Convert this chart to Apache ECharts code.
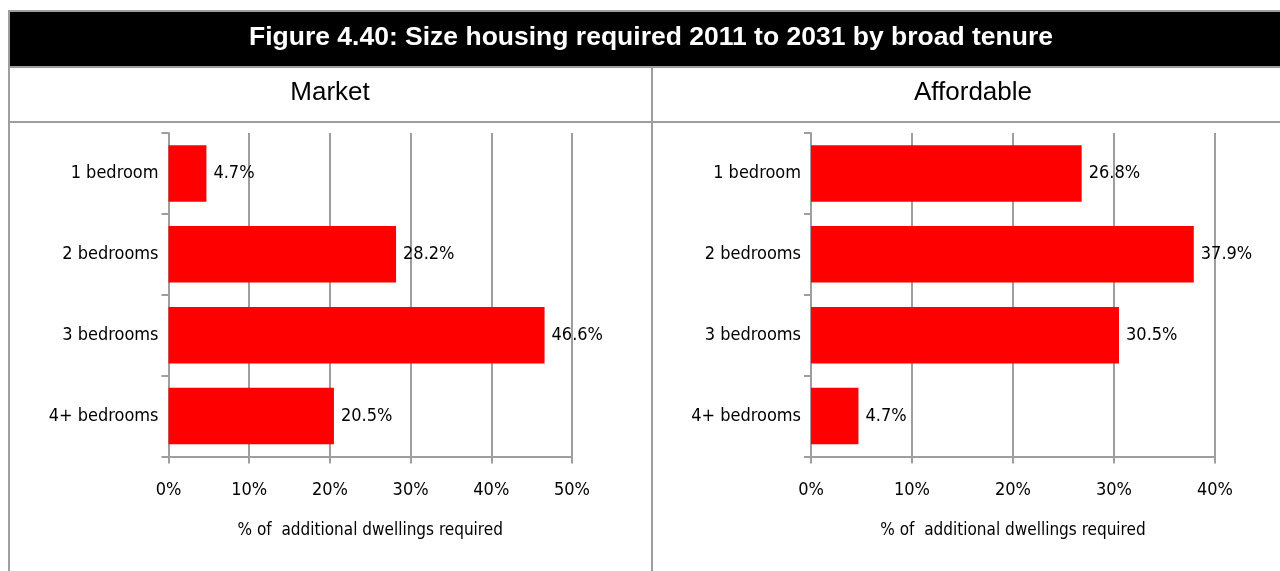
<!DOCTYPE html>
<html>
<head>
<meta charset="utf-8">
<script src="https://cdn.jsdelivr.net/npm/echarts@6/dist/echarts.min.js"></script>
<style>
  html, body { margin: 0; padding: 0; background: #fff; }
  #chart { width: 1280px; height: 571px; }
</style>
</head>
<body>
<div id="chart"></div>
<script>
// 数据
const categories = ['1 bedroom', '2 bedrooms', '3 bedrooms', '4+ bedrooms'];
const marketValues = [4.7, 28.2, 46.6, 20.5];
const affordableValues = [26.8, 37.9, 30.5, 4.7];
const panelTitles = ['Market', 'Affordable'];
const axisName = '% of  additional dwellings required';
const figureTitle = 'Figure 4.40: Size housing required 2011 to 2031 by broad tenure';

const narrow = '"Liberation Sans Narrow", "DejaVu Sans Condensed", sans-serif';
const sans = '"Liberation Sans", Arial, sans-serif';
const grey = '#9e9e9e';

const chart = echarts.init(document.getElementById('chart'));

// 生成坐标轴配置
const makeX = (gridIndex, max) => ({
  type: 'value',
  gridIndex,
  min: 0,
  max,
  interval: 10,
  axisLine: { show: true, lineStyle: { color: grey, width: 2 } },
  axisTick: { show: true, length: 7, lineStyle: { color: grey, width: 2 } },
  splitLine: { show: true, lineStyle: { color: grey, width: 2 } },
  axisLabel: {
    formatter: '{value}%',
    color: '#000',
    fontFamily: narrow,
    fontSize: 18,
    margin: 25
  },
  name: axisName,
  nameLocation: 'middle',
  nameGap: 66,
  nameTextStyle: { color: '#000', fontFamily: narrow, fontSize: 17 }
});

const makeY = (gridIndex) => ({
  type: 'category',
  gridIndex,
  data: categories,
  inverse: true,
  axisLine: { show: true, lineStyle: { color: grey, width: 2 } },
  axisTick: { show: true, length: 7, lineStyle: { color: grey, width: 2 } },
  axisLabel: { color: '#000', fontFamily: narrow, fontSize: 18, margin: 10 }
});

const makeSeries = (idx, data) => ({
  type: 'bar',
  xAxisIndex: idx,
  yAxisIndex: idx,
  data,
  barCategoryGap: '30%',
  itemStyle: { color: '#ff0000' },
  label: {
    show: true,
    position: 'right',
    distance: 7,
    formatter: (p) => p.value.toFixed(1) + '%',
    color: '#000',
    fontFamily: narrow,
    fontSize: 18
  },
  silent: true
});

const line = (x1, y1, x2, y2) => ({
  type: 'line',
  shape: { x1, y1, x2, y2 },
  style: { stroke: grey, lineWidth: 2 },
  z: 10
});

const makeTitle = (text, x, y, size, weight, color) => ({
  text,
  left: x, top: y,
  padding: 0,
  textAlign: 'center', textVerticalAlign: 'middle',
  textStyle: { color, fontFamily: sans, fontWeight: weight, fontSize: size }
});

const option = {
  animation: false,
  backgroundColor: '#fff',
  title: [
    makeTitle(figureTitle, 651, 38, 26.5, 'bold', '#fff'),
    makeTitle(panelTitles[0], 330, 93, 26, 'normal', '#000'),
    makeTitle(panelTitles[1], 973, 93, 26, 'normal', '#000')
  ],
  graphic: [
    {
      type: 'rect',
      shape: { x: 9, y: 11, width: 1290, height: 56 },
      style: { fill: '#000' },
      z: 1
    },
    line(8, 11, 1280, 11),
    line(8, 67, 1280, 67),
    line(8, 122, 1280, 122),
    line(9, 10, 9, 571),
    line(652, 67, 652, 571)
  ],
  grid: [
    { left: 168.5, top: 133, width: 403.5, height: 323.5 },
    { left: 811, top: 133, width: 404, height: 323.5 }
  ],
  xAxis: [makeX(0, 50), makeX(1, 40)],
  yAxis: [makeY(0), makeY(1)],
  series: [makeSeries(0, marketValues), makeSeries(1, affordableValues)]
};

chart.setOption(option);
</script>
</body>
</html>
